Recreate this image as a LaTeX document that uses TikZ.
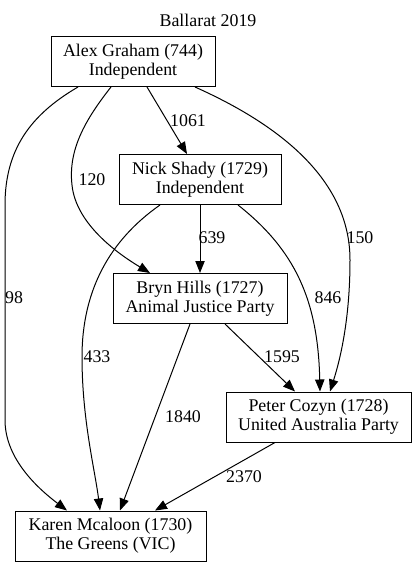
\documentclass[tikz,border=0pt]{standalone}
\usepackage{fontspec}
\setmainfont{Liberation Serif}
\usetikzlibrary{arrows.meta,calc}
\begin{document}
\begin{tikzpicture}[x=0.75pt,y=-0.75pt,
  cand/.style={draw,line width=0.75pt,minimum height=37.5pt,inner sep=0pt,align=center,font=\fontsize{13.4}{14}\selectfont},
  edge/.style={line width=0.75pt,-{Triangle[length=9pt,width=7pt]}},
  lbl/.style={font=\fontsize{13.4}{14}\selectfont,inner sep=0pt}]
\useasboundingbox (0,0) rectangle (417,567);
\node[lbl] (title) at (208,20) {Ballarat 2019};
\node[cand,minimum width=123pt] (alex) at (133,61.5) {Alex Graham (744)\\Independent};
\node[cand,minimum width=121.5pt] (nick) at (200,179.5) {Nick Shady (1729)\\Independent};
\node[cand,minimum width=130.5pt] (bryn) at (200,298.5) {Bryn Hills (1727)\\Animal Justice Party};
\node[cand,minimum width=138.75pt] (peter) at (318.5,417) {Peter Cozyn (1728)\\United Australia Party};
\node[cand,minimum width=143.25pt] (karen) at (110.5,536) {Karen Mcaloon (1730)\\The Greens (VIC)};

% Alex edges
\draw[edge] ($(alex.south)+(14,0)$) -- ($(nick.north)+(-13,0)$);
\draw[edge] ($(alex.south)+(-22,0)$) .. controls (85,120) and (68,150) .. (72,185)
   .. controls (76,225) and (120,255) .. ($(bryn.north)+(-50,0)$);
\draw[edge] ($(alex.south)+(-55,0)$) .. controls (30,115) and (5,150) .. (5,205)
   -- (5,420) .. controls (5,460) and (40,490) .. ($(karen.north)+(-43.5,0)$);
\draw[edge] ($(alex.south)+(62,0)$) .. controls (280,125) and (350,180) .. (350,260)
   .. controls (350,320) and (340,360) .. ($(peter.north)+(11.5,0)$);
% Nick edges
\draw[edge] (nick.south) -- (bryn.north);
\draw[edge] ($(nick.south)+(-40,0)$) .. controls (110,240) and (82,290) .. (82,357)
   .. controls (82,420) and (95,470) .. ($(karen.north)+(-10.5,0)$);
\draw[edge] ($(nick.south)+(38,0)$) .. controls (295,250) and (318,300) .. ($(peter.north)+(1.5,0)$);
% Bryn edges
\draw[edge] ($(bryn.south)+(25,0)$) -- ($(peter.north)+(-23.5,0)$);
\draw[edge] ($(bryn.south)+(-10,0)$) -- ($(karen.north)+(9.5,0)$);
% Peter edge
\draw[edge] ($(peter.south)+(-43.5,0)$) -- ($(karen.north)+(44.5,0)$);

% labels
\node[lbl] (l1061) at (188,121) {1061};
\node[lbl] (l120) at (92,180) {120};
\node[lbl] (l98) at (14,298) {98};
\node[lbl] (l150) at (360,238) {150};
\node[lbl] (l639) at (212,238) {639};
\node[lbl] (l846) at (328,298) {846};
\node[lbl] (l433) at (97,357) {433};
\node[lbl] (l1595) at (282,357) {1595};
\node[lbl] (l1840) at (183,417) {1840};
\node[lbl] (l2370) at (244,477) {2370};
\end{tikzpicture}
\end{document}
